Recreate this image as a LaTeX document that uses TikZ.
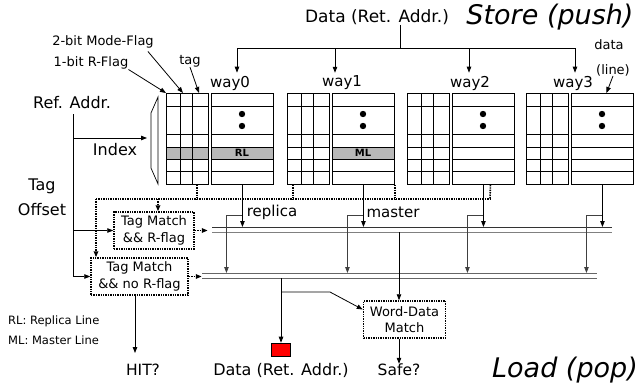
\documentclass[tikz,border=0pt]{standalone}
\usepackage{fontspec}
\setmainfont{DejaVu Sans}
\usetikzlibrary{positioning, arrows.meta, calc}

\begin{document}
\begin{tikzpicture}[x=1pt, y=-1pt,
    lbl/.style={inner sep=0pt, font=\fontsize{16}{18}\selectfont},
    wlbl/.style={inner sep=0pt, font=\fontsize{15}{17}\selectfont},
    sml/.style={inner sep=0pt, font=\fontsize{13}{15}\selectfont},
    big/.style={inner sep=0pt, font=\fontsize{27}{30}\selectfont\itshape},
    blk/.style={draw, line width=0.9pt, minimum height=91pt, inner sep=0pt, anchor=north west},
    logic/.style={draw, dash pattern=on 1.4pt off 1pt, line width=1.5pt, minimum height=37pt, align=center, inner sep=1pt, font=\fontsize{13}{17}\selectfont},
    arr/.style={-{Triangle[length=6pt, width=4.5pt]}, line width=0.8pt},
    dotline/.style={dash pattern=on 1.4pt off 1pt, line width=1.6pt},
    dotarr/.style={dotline, -{Triangle[length=6pt, width=4.5pt]}},
    bus/.style={line width=0.9pt, draw=black!80},
    cellrow/.style={fill=black!28},
]
\useasboundingbox (0,0) rectangle (640,383);

% shaded lines (RL / ML)
\fill[cellrow] (166,147) rectangle (208,159);
\fill[cellrow] (211,147) rectangle (273,159);
\fill[cellrow] (332,147) rectangle (394,159);

% the four ways: tag/flag block and data block
\foreach \i/\wx in {0/166, 1/287, 2/407, 3/526}{
  \node[blk, minimum width=42pt] (tag\i) at (\wx,93) {};
  \node[blk, minimum width=62pt] (dat\i) at (\wx+45,93) {};
  \foreach \ry in {106,134,147,159,171}
    \draw[line width=0.6pt] (\wx,\ry) -- (\wx+42,\ry) (\wx+45,\ry) -- (\wx+107,\ry);
  \draw[line width=0.6pt] (\wx+14,93) -- (\wx+14,184) (\wx+26,93) -- (\wx+26,184);
  \fill (\wx+76,114) circle (3.2pt) (\wx+76,126) circle (3.2pt);
  \coordinate (k\i) at ($(dat\i.south)+(-16,0)$);
}
\node[inner sep=0pt, font=\fontsize{10}{11}\selectfont\bfseries] (rl) at (242,153) {RL};
\node[inner sep=0pt, font=\fontsize{10}{11}\selectfont\bfseries] (ml) at (363,153) {ML};

% decoder
\draw[line width=0.7pt] (158,97) -- (151,113) -- (151,168) -- (158,184) -- cycle;
\coordinate (dec) at (151,138);

% store side
\node[lbl, font=\fontsize{17}{19}\selectfont] (dtop) at (377,17) {Data (Ret. Addr.)};
\node[big] (st) at (550,17) {Store (push)};
\coordinate (feed) at (400,48);
\draw[line width=0.8pt] (dtop.south -| feed) -- (feed);
\foreach \i/\lx/\ax in {0/230/237, 1/342/335, 2/470/469, 3/573/575}{
  \node[wlbl] (way\i) at (\lx,83) {way\i};
  \coordinate (top\i) at (\ax,48);
  \draw[arr, shorten >=3pt] (top\i) -- (top\i |- way\i.north);
}
\draw[line width=0.8pt] (top0) -- (top3);

% field labels
\node[sml] (mflag) at (103,42) {2-bit Mode-Flag};
\node[sml] (rflag) at (91,63) {1-bit R-Flag};
\node[sml] (tagl) at (190,61) {tag};
\draw[arr] (rflag.south east) -- (tag0.north west);
\draw[arr] ($(mflag.south east)+(-6,3)$) -- ($(tag0.north west)+(17,0)$);
\draw[arr] (tagl.south) -- ($(tag0.north west)+(33,0)$);
\node[sml] (datal) at (609,45) {data};
\node[sml] (linel) at (613,70) {(line)};
\draw[arr] (linel.south) -- ($(dat3.north)+(4,0)$);

% reference address
\node[lbl] (ref) at (72,103) {Ref. Addr.};
\node[lbl] (idx) at (115,150) {Index};
\node[lbl] (tg) at (42,186) {Tag};
\node[lbl] (ofs) at (42,210) {Offset};
\node[logic, minimum width=80pt] (rf) at (154,230.5) {Tag Match\\\&\& R-flag};
\node[logic, minimum width=97pt] (nrf) at (139.5,276.5) {Tag Match\\\&\& no R-flag};
\coordinate (trk) at (73,114);
\draw[arr] (trk) |- (nrf.west);
\draw[arr] (trk |- rf.west) -- (rf.west);
\draw[arr, shorten >=4pt] (trk |- dec) -- (dec);

% tag / flag read-out (dotted)
\coordinate (dl) at (96,199);
\coordinate (dr) at (490,199);
\coordinate (rfin) at ($(rf.north)+(4,0)$);
\draw[dotline] (dl) -- (dr);
\draw[dotline] ($(tag0.south west)+(31,0)$) -- +(0,15);
\draw[dotline] ($(tag1.south west)+(6,0)$) -- +(0,15);
\draw[dotline] (dat1.south east) -- +(0,15);
\draw[dotline] ($(dat2.south)+(7,0)$) -- (dr);
\draw[dotarr] (dl) -- (dl |- nrf.north);
\draw[dotarr] (rfin |- dl) -- (rfin);
\draw[dotarr] (rf.east) -- ++(13,0);
\draw[dotarr] (nrf.east) -- ++(13,0);

% buses
\coordinate (tb1) at (212,227); \coordinate (tb1e) at (612,227);
\coordinate (tb2) at (212,232); \coordinate (tb2e) at (612,232);
\coordinate (bb1) at (202,273); \coordinate (bb1e) at (597,273);
\coordinate (bb2) at (202,278); \coordinate (bb2e) at (597,278);
\coordinate (br) at (0,215);
\draw[bus] (tb1) -- (tb1e);
\draw[bus, draw=black!50] (tb2) -- (tb2e);
\draw[bus, draw=black!60] (bb1) -- (bb1e);
\draw[bus, draw=black!60] (bb2) -- (bb2e);

% data read-out of each way
\foreach \i in {0,...,3}{
  \draw[arr] (dat\i.south) -- (dat\i.south |- tb1);
  \draw[arr, draw=black!75] (dat\i.south |- br) -| (k\i |- bb1);
}
\node[wlbl] (rep) at (272,212) {replica};
\node[wlbl] (mas) at (393,212) {master};

% load side
\node[logic, minimum width=82pt, font=\fontsize{13}{16}\selectfont] (wd) at (404.5,319.5) {Word-Data\\Match};
\node[draw, fill=red, line width=0.6pt, minimum width=19pt, minimum height=13pt, inner sep=0pt] (ret) at (281,349.5) {};
\coordinate (wdin) at ($(wd.north)+(-5.5,0)$);
\coordinate (wdtap) at (281,292);
\draw[arr] (wdin |- tb2) -- (wdin);
\draw[arr] (ret.north |- bb2) -- (ret.north);
\draw[arr] (wdtap) -- ++(49,0) -- ($(wd.west)+(0,-10)$);
\node[lbl] (ldata) at (281,370) {Data (Ret. Addr.)};
\node[lbl, font=\fontsize{15.5}{17}\selectfont] (safe) at (399,370) {Safe?};
\node[lbl, font=\fontsize{15.5}{17}\selectfont] (hit) at (143,370) {HIT?};
\coordinate (hitx) at (135,353);
\draw[arr] (wdin |- wd.south) -- (wdin |- safe.north);
\draw[arr] (hitx |- nrf.south) -- (hitx);
\node[big] (ld) at (565,370) {Load (pop)};

% legend
\node[inner sep=0pt, anchor=west, font=\fontsize{11.5}{13}\selectfont] (lg1) at (8,321) {RL: Replica Line};
\node[inner sep=0pt, anchor=west, font=\fontsize{11.5}{13}\selectfont] (lg2) at (8,340) {ML: Master Line};
\end{tikzpicture}
\end{document}
